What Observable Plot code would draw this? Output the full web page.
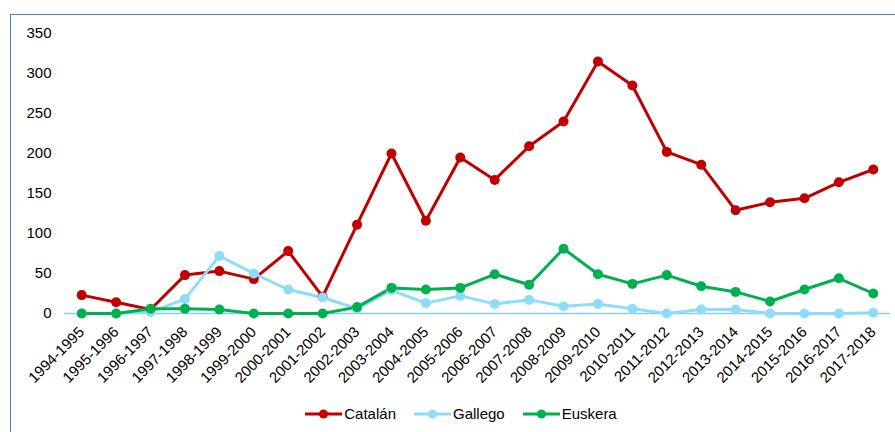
<!DOCTYPE html>
<html>
<head>
<meta charset="utf-8">
<script src="https://cdn.jsdelivr.net/npm/d3@7"></script>
<script src="https://cdn.jsdelivr.net/npm/@observablehq/plot@0.6"></script>
<style>
  html, body { margin: 0; padding: 0; background: #fff; }
  body { width: 895px; height: 432px; overflow: hidden; position: relative; font-family: "Liberation Sans", Arial, sans-serif; }
  #frame { position: absolute; left: 10px; top: 14px; width: 900px; height: 430px; border: 1.5px solid #4f81bd; box-sizing: border-box; }
  #chart { position: absolute; left: 0; top: 0; }
  #legend { position: absolute; top: 405px; left: 0; width: 895px; display: flex; justify-content: center; font-size: 15px; color: #000; padding-left: 27px; box-sizing: border-box; }
  .item { display: flex; align-items: center; margin: 0 9px; }
  .item svg { margin-right: 2px; }
</style>
</head>
<body>
<div id="frame"></div>
<div id="chart"></div>
<div id="legend"></div>
<script>
const seasons = ["1994-1995","1995-1996","1996-1997","1997-1998","1998-1999","1999-2000","2000-2001","2001-2002","2002-2003","2003-2004","2004-2005","2005-2006","2006-2007","2007-2008","2008-2009","2009-2010","2010-2011","2011-2012","2012-2013","2013-2014","2014-2015","2015-2016","2016-2017","2017-2018"];
const catalan = [23,14,5,48,53,43,78,21,111,200,116,195,167,209,240,315,285,202,186,129,139,144,164,180];
const gallego = [0,0,2,18,72,50,30,20,6,29,13,22,12,17,9,12,6,0,5,5,0,0,0,1];
const euskera = [0,0,6,6,5,0,0,0,8,32,30,32,49,36,81,49,37,48,34,27,15,30,44,25];
const seriesNames = ["Catalán","Gallego","Euskera"];
const seriesColors = ["#c00000","#8fdcfa","#00b050"];
const yTicks = [0,50,100,150,200,250,300,350];

const allValues = [catalan, gallego, euskera];
const data = [];
seriesNames.forEach((name, si) => {
  seasons.forEach((s, i) => data.push({season: s, value: allValues[si][i], series: name}));
});

const color = {domain: seriesNames, range: seriesColors};

const chart = Plot.plot({
  width: 895,
  height: 395,
  marginLeft: 64,
  marginRight: 5,
  marginTop: 33,
  marginBottom: 82,
  style: {fontFamily: "'Liberation Sans', Arial, sans-serif", fontSize: "14px", color: "#000", background: "transparent"},
  x: {type: "point", domain: seasons, padding: 0.5, round: false, label: null},
  y: {domain: [0, 350], label: null},
  color,
  marks: [
    Plot.ruleY([0], {stroke: "#88cdeb", strokeWidth: 1.5}),
    Plot.axisY({ticks: yTicks, tickSize: 0, tickPadding: 13, fontSize: 15, label: null}),
    Plot.axisX({tickSize: 0, tickPadding: 16, tickRotate: -45, fontSize: 15, label: null}),
    Plot.line(data, {x: "season", y: "value", z: "series", stroke: "series", strokeWidth: 3, strokeLinejoin: "round"}),
    Plot.dot(data, {x: "season", y: "value", fill: "series", r: 5})
  ]
});
document.getElementById("chart").appendChild(chart);

const legend = document.getElementById("legend");
seriesNames.forEach((name, i) => {
  const item = document.createElement("div");
  item.className = "item";
  item.innerHTML = `<svg width="37" height="12"><line x1="0" y1="6" x2="37" y2="6" stroke="${seriesColors[i]}" stroke-width="3"/><circle cx="18.5" cy="6" r="4.5" fill="${seriesColors[i]}"/></svg><span>${name}</span>`;
  legend.appendChild(item);
});
</script>
</body>
</html>
